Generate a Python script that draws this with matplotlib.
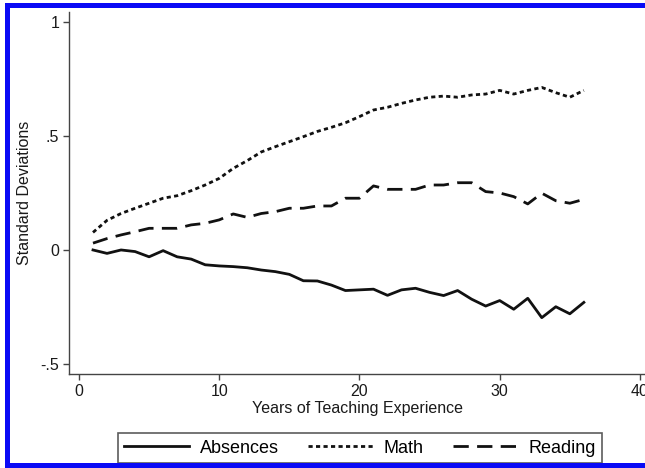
import numpy as np
import matplotlib
matplotlib.use('Agg')
import matplotlib.pyplot as plt
from matplotlib.patches import Rectangle

plt.rcParams['font.family'] = ['Liberation Sans', 'DejaVu Sans']

# Data
years = list(range(1, 37))
absences = [0.0, -0.015, 0.0, -0.007, -0.03, -0.003, -0.03, -0.04, -0.065, -0.07,
            -0.073, -0.078, -0.088, -0.095, -0.107, -0.135, -0.136, -0.154, -0.178, -0.175,
            -0.172, -0.199, -0.175, -0.168, -0.186, -0.2, -0.178, -0.216, -0.246, -0.222,
            -0.26, -0.212, -0.297, -0.249, -0.28, -0.23]
math = [0.077, 0.13, 0.16, 0.183, 0.205, 0.227, 0.238, 0.26, 0.285, 0.314,
        0.358, 0.392, 0.43, 0.453, 0.475, 0.497, 0.52, 0.538, 0.558, 0.585,
        0.614, 0.626, 0.643, 0.658, 0.67, 0.675, 0.67, 0.68, 0.684, 0.7,
        0.684, 0.7, 0.713, 0.69, 0.67, 0.7]
reading = [0.03, 0.05, 0.066, 0.08, 0.095, 0.095, 0.095, 0.11, 0.117, 0.132,
           0.158, 0.143, 0.16, 0.168, 0.183, 0.183, 0.193, 0.193, 0.227, 0.227,
           0.281, 0.266, 0.266, 0.266, 0.285, 0.285, 0.295, 0.295, 0.256, 0.25,
           0.234, 0.202, 0.249, 0.216, 0.205, 0.222]

xticks = [0, 10, 20, 30, 40]
yticks = [-0.5, 0, 0.5, 1]
ytick_labels = ['-.5', '0', '.5', '1']

fig = plt.figure(figsize=(6.45, 4.68), dpi=100)
ax = fig.add_axes([0.107, 0.2009, 0.893, 0.7735])

lw = 2.0
ax.plot(years, absences, color='#111111', lw=lw, label='Absences')
ax.plot(years, math, color='#111111', lw=lw, dashes=(1.5, 1.2), label='Math')
ax.plot(years, reading, color='#111111', lw=lw, dashes=(5.5, 3.0), label='Reading')

ax.set_xlim(-0.71, 40.36)
ax.set_ylim(-0.544, 1.044)
ax.set_xticks(xticks)
ax.set_yticks(yticks)
ax.set_yticklabels(ytick_labels)

for s in ['top', 'right']:
    ax.spines[s].set_visible(False)
for s in ['left', 'bottom']:
    ax.spines[s].set_color('#444444')
    ax.spines[s].set_linewidth(1.0)
ax.tick_params(direction='out', length=4.5, width=1.0, color='#444444',
               labelsize=11.5, labelcolor='#1a1a1a', pad=2.5)

ax.set_xlabel('Years of Teaching Experience', fontsize=11.5, color='#1a1a1a', labelpad=1.5)
ax.set_ylabel('Standard Deviations', fontsize=11.5, color='#1a1a1a', labelpad=6)

leg = fig.legend(loc='lower center', bbox_to_anchor=(0.558, 0.011), ncol=3,
                 fontsize=13, frameon=True, fancybox=False, edgecolor='#333333',
                 handlelength=3.6, handletextpad=0.6, columnspacing=1.6,
                 borderpad=0.35, borderaxespad=0)
leg.get_frame().set_linewidth(1.2)

# blue frame around the picture
W, H = 645.0, 468.0
blue = '#0a0af5'
for (x0, y0, w, h) in [(5, 0, 5, 465), (5, 460, 640, 5), (5, 0, 640, 5)]:
    fig.patches.append(Rectangle((x0 / W, y0 / H), w / W, h / H, transform=fig.transFigure,
                                 facecolor=blue, edgecolor='none', zorder=10))

fig.savefig('out.png', dpi=100)
